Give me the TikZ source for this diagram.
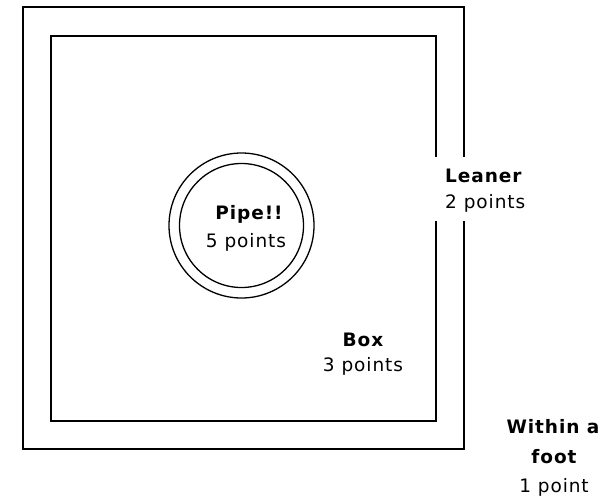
\documentclass[tikz,border=0pt]{standalone}
\usepackage{fontspec}
\newfontfamily\lblfont[LetterSpace=5]{DejaVu Sans}
\begin{document}
\begin{tikzpicture}[x=1pt,y=-1pt,
  frame/.style={draw=black,line width=1.7pt},
  ring/.style={draw=black,line width=1.3pt},
  txt/.style={inner sep=0pt,font=\lblfont\fontsize{18.5pt}{20pt}\selectfont},
  btxt/.style={inner sep=0pt,font=\lblfont\fontsize{18.5pt}{20pt}\selectfont\bfseries},
  cover/.style={fill=white,inner sep=0pt,minimum width=104pt,minimum height=64pt}]
\useasboundingbox (0,0) rectangle (609,498);
\fill[white] (0,0) rectangle (609,498);
% squares
\draw[frame] (23,7) rectangle (464,449);
\draw[frame] (51,36) rectangle (436,421);
% pipe circles
\coordinate (pc) at (241.5,225.5);
\draw[ring] (pc) circle[radius=72.5];
\draw[ring] (pc) circle[radius=62];
% cover for leaner label
\node[cover] (leanercover) at (485,189) {};
% labels
\node[btxt,anchor=base] (pipeA) at (249,219) {Pipe!!};
\node[txt,anchor=base] (pipeB) at (246,247.7) {5 points};
\node[btxt,anchor=base west] (leanA) at (445,182) {Leaner};
\node[txt,anchor=base west] (leanB) at (445,208) {2 points};
\node[btxt,anchor=base] (boxA) at (363,346.7) {Box};
\node[txt,anchor=base] (boxB) at (363,371.7) {3 points};
\node[btxt,anchor=base] (footA) at (553,433) {Within a};
\node[btxt,anchor=base] (footB) at (554,463) {foot};
\node[txt,anchor=base] (footC) at (554,492.5) {1 point};
\end{tikzpicture}
\end{document}
